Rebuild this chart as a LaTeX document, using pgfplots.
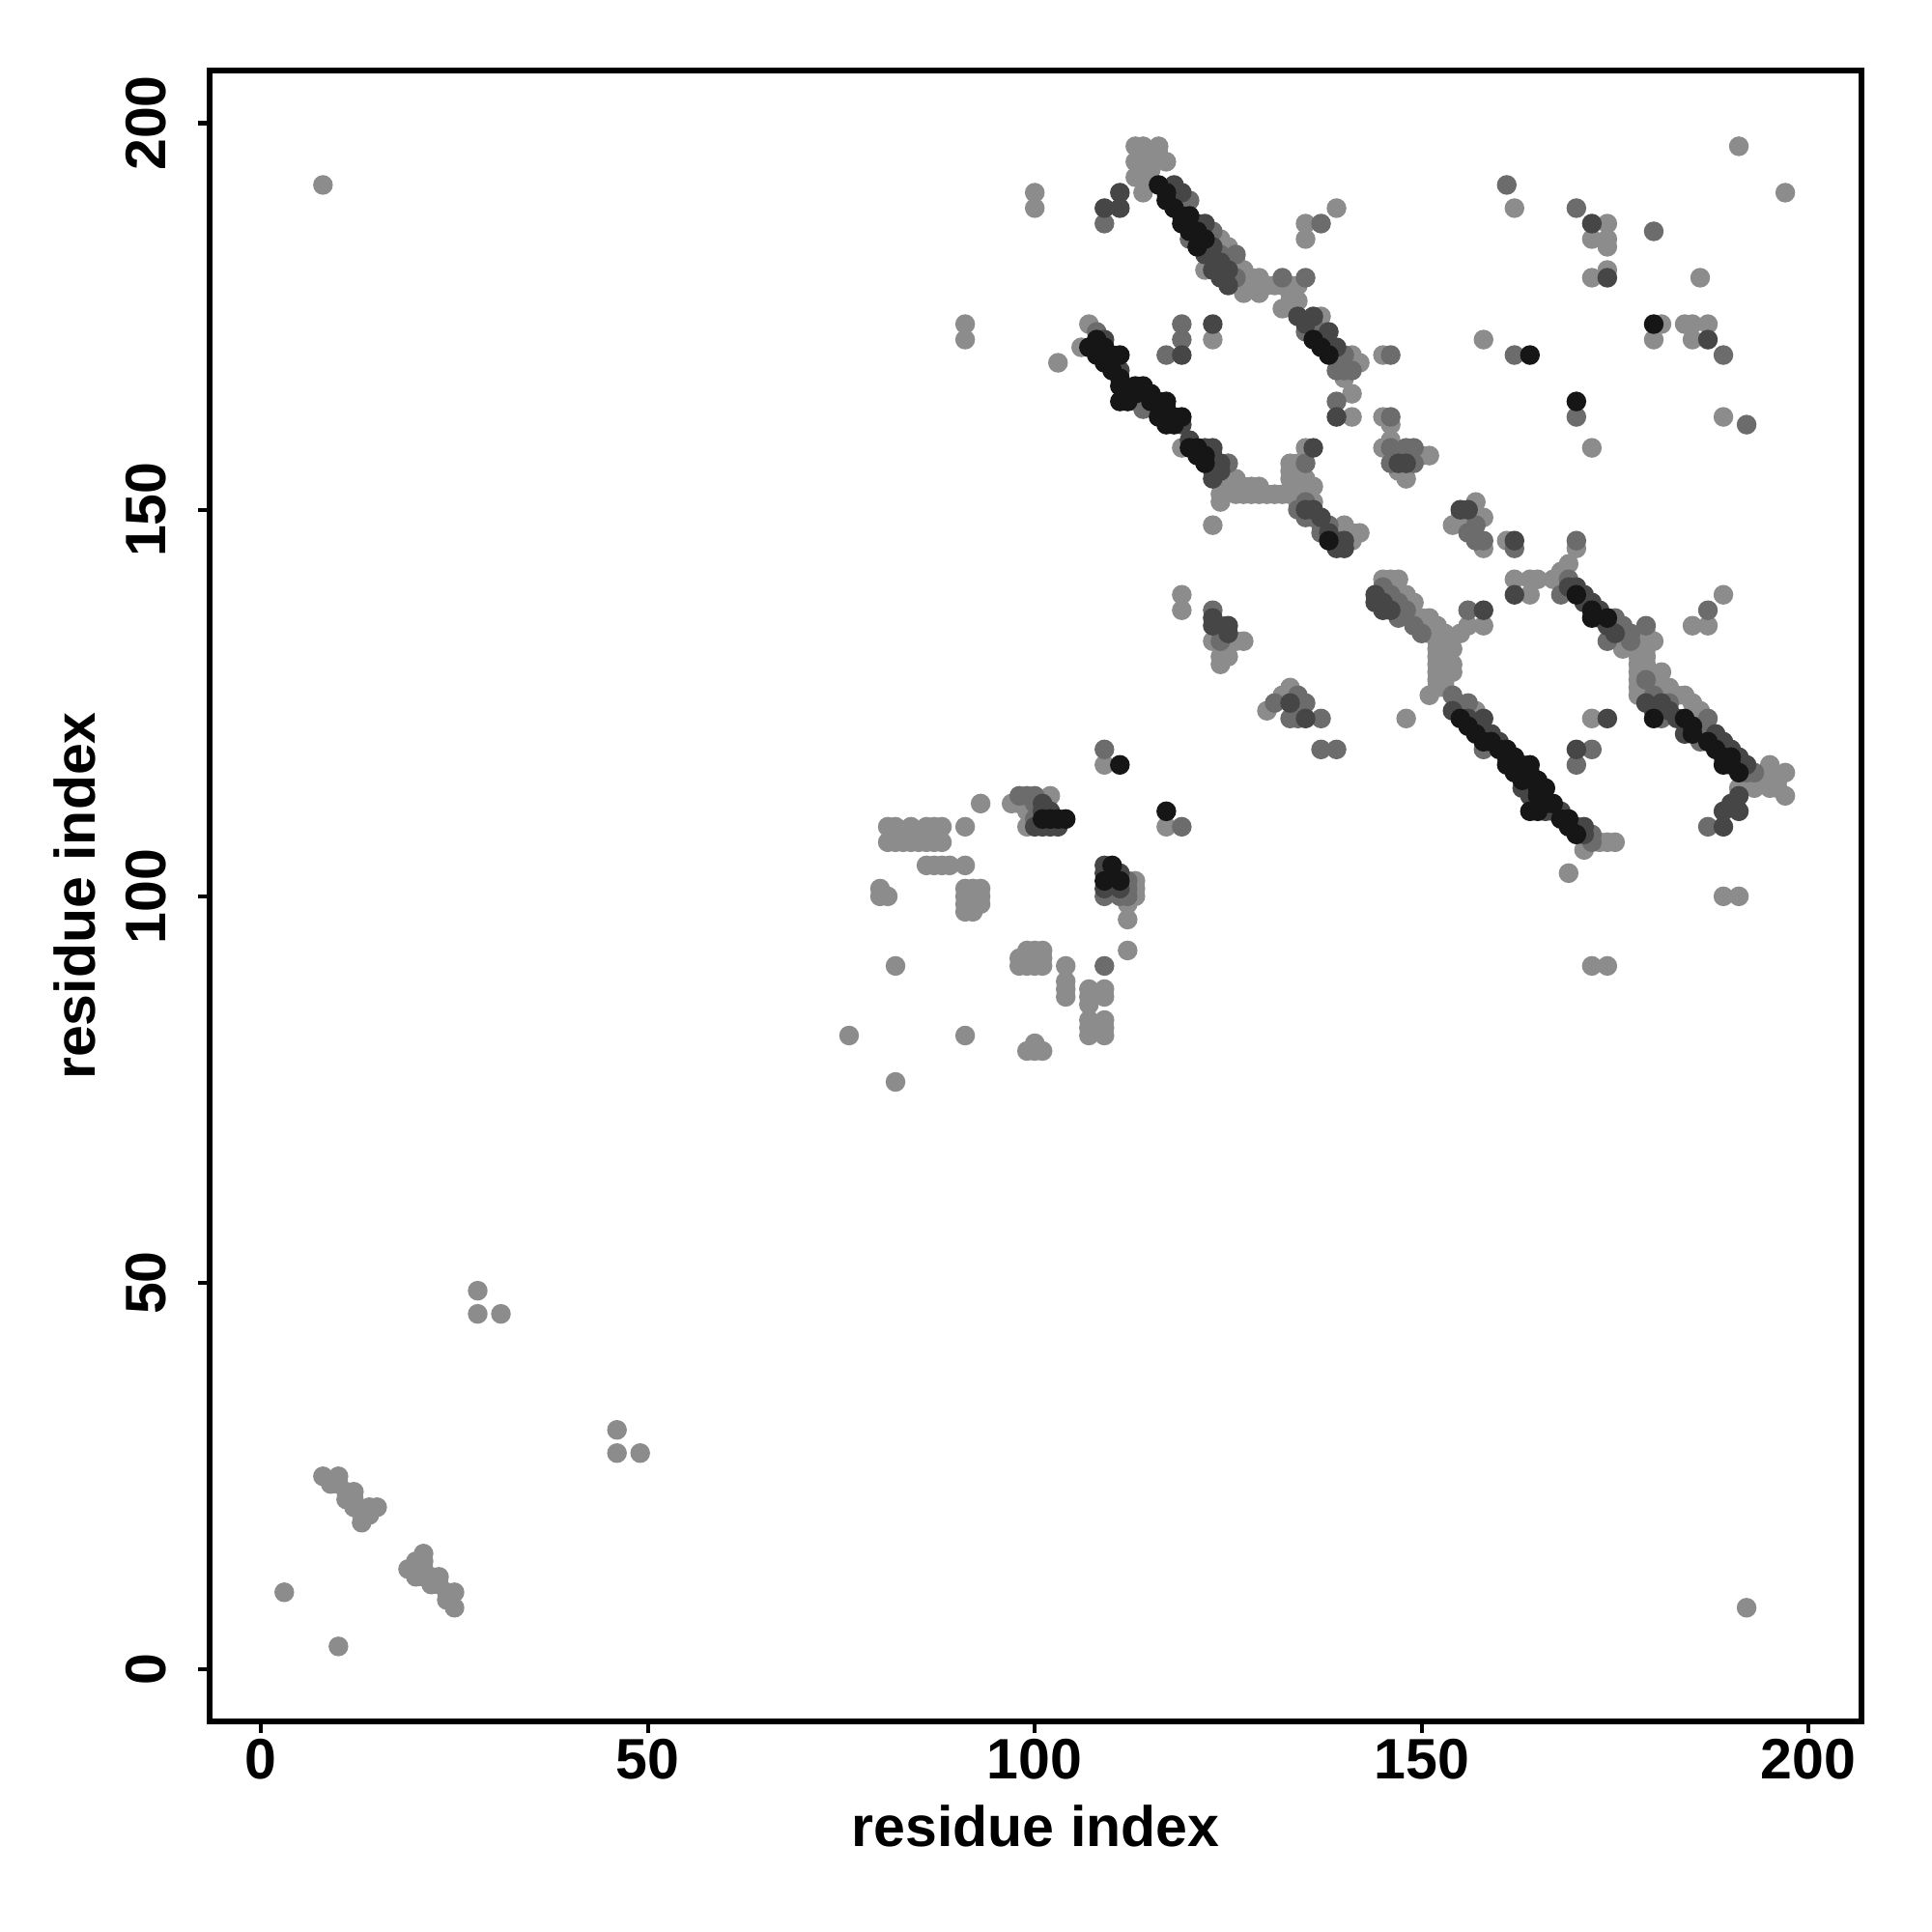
\documentclass[border=0pt]{standalone}
\usepackage{fontspec}
\setmainfont{Liberation Sans}
\usepackage{pgfplots}
\pgfplotsset{compat=1.18}

\definecolor{cL}{RGB}{140,140,140}
\definecolor{cM}{RGB}{108,108,108}
\definecolor{cD}{RGB}{70,70,70}
\definecolor{cK}{RGB}{22,22,22}

\begin{document}
\begin{tikzpicture}
\begin{axis}[
    scale only axis,
    width=17.1cm, height=17.09cm,
    xmin=-6.65, xmax=206.85,
    ymin=-6.7, ymax=206.8,
    xtick={0,50,100,150,200},
    ytick={0,50,100,150,200},
    xtick pos=bottom, ytick pos=left,
    tick align=outside,
    major tick length=0.12cm,
    axis line style={line width=1.7pt},
    tick style={line width=1.2pt, black},
    /pgf/number format/assume math mode=true,
    ticklabel style={font=\fontsize{16.8}{19}\selectfont\bfseries},
    xticklabel style={anchor=base, yshift=-0.47cm},
    yticklabel style={anchor=base, xshift=-0.33cm, rotate=90},
    every axis x label/.style={at={(axis description cs:0.5,0)}, anchor=base, yshift=-1.29cm},
    every axis y label/.style={at={(axis description cs:0,0.5)}, xshift=-1.18cm, rotate=90, anchor=base},
    label style={font=\fontsize{16.8}{19}\selectfont\bfseries},
    xlabel={residue index},
    ylabel={residue index},
    clip=true,
]
% light grey contacts
\addplot[only marks, mark=*, mark size=0.95mm, color=cL] coordinates {
(28,49) (28,46) (31,46) (46,31) (46,28) (49,28) (3,10) (10,3)
(8,25) (9,24) (10,25) (10,24) (11,23) (12,23) (12,22) (12,21) (13,20) (13,19) (14,21) (15,21) (14,20) (11,22)
(21,15) (21,14) (20,13) (19,13) (20,12) (21,12) (22,12) (23,12) (22,11) (23,11) (24,10) (25,10) (24,9) (25,8) (21,13) (20,14)
(8,192) (192,8)
(82,91) (76,82) (91,82) (82,76)
(98,92) (99,93) (100,93) (101,93) (98,91) (100,91) (101,91) (99,92) (100,92) (101,92) (99,91)
(104,91) (104,89) (104,88) (104,87)
(107,88) (107,87) (107,86) (107,84) (107,83) (107,82) (109,88) (109,87) (109,84) (109,82) (109,83)
(112,93) (100,81) (99,80) (101,80) (100,80)
(80,101) (81,100) (80,100)
(81,109) (82,109) (84,109) (86,109) (87,109) (88,109) (91,109) (81,107) (82,107) (83,107) (84,107) (85,107) (86,107) (87,107) (88,107)
(86,104) (87,104) (88,104) (89,104) (91,104)
(91,101) (92,101) (93,101) (91,100) (92,100) (93,100) (91,99) (92,99) (93,99) (91,98) (92,98)
(93,112) (97,112) (98,112) (99,111) (102,113) (99,109)
(113,102) (113,100) (112,99) (112,97) (113,101)
(109,117) (117,109)
(100,191) (100,189) (91,174) (91,172) (103,169)
(113,197) (114,197) (116,197) (114,196) (117,195) (114,195) (113,193) (114,193) (114,191) (115,194) (114,194) (113,195) (116,196)
(124,185) (125,184) (122,181) (126,182) (127,181) (127,179) (128,180) (129,180) (130,179) (131,179) (132,179) (133,179) (129,178) (127,178) (128,179) (134,179) (133,178) (132,176) (133,177) (134,177)
(141,170) (142,169) (137,175) (140,167)
(141,165) (141,162) (145,162) (146,161) (145,170)
(123,172) (107,174) (106,171) (113,164) (119,158) (124,152) (124,151)
(125,153) (126,152) (127,152) (128,152) (129,152) (130,152) (131,152) (132,152) (133,152) (134,152) (129,153) (126,154) (127,153) (128,153)
(133,156) (135,158) (134,154) (135,154) (134,155) (136,153) (136,151) (135,153) (134,153) (133,155) (134,156) (133,154)
(141,147) (142,147) (140,148) (141,146) (134,151)
(145,158) (150,157) (151,157) (148,154) (147,155) (146,159)
(157,151) (158,149) (154,148) (158,145) (155,149) (161,146) (170,145)
(162,141) (164,141) (165,141) (164,139)
(123,148) (119,139) (119,137) (124,134) (123,133) (126,133) (127,133) (124,131) (125,131) (124,130)
(130,124) (132,126) (133,127)
(145,141) (147,141) (146,141) (148,139) (149,138) (150,136) (151,136) (152,135) (151,134) (152,133) (153,134) (146,140)
(158,135) (156,135) (155,134)
(152,132) (153,131) (152,130) (153,129) (152,128) (153,127) (151,126) (152,127) (154,132) (154,130) (153,133) (154,129) (153,130) (153,128) (152,129) (152,131)
(148,123) (157,124) (174,107) (173,107) (171,106) (169,103)
(168,142) (169,143) (167,141) (176,133) (176,132) (178,132) (179,134) (180,133)
(179,131) (178,130) (179,130) (181,129) (178,129) (180,128) (178,127) (178,126) (179,129) (178,128) (179,132) (178,131)
(181,127) (182,127) (183,126) (184,126) (185,125) (186,124)
(195,117) (197,116) (191,114) (193,114) (195,114) (197,113) (194,115) (196,115) (192,115) (196,114)
(175,107) (189,100) (191,100) (172,91) (174,91) (172,123)
(189,139) (185,135) (187,135)
(162,189) (174,187) (172,185) (174,185) (174,184) (174,181) (172,180) (139,189) (135,187) (135,185)
(186,180) (191,197) (197,191)
(181,174) (180,172) (184,174) (185,174) (187,174) (185,172) (189,162)
(158,172) (172,158)
};
% medium grey contacts
\addplot[only marks, mark=*, mark size=0.95mm, color=cM] coordinates {
(109,187) (120,190) (119,190) (120,185) (123,186) (124,183) (126,180) (126,183) (132,180) (135,180)
(136,174) (140,170) (139,168) (140,168) (135,173) (138,171) (141,168)
(139,164) (146,162) (146,170)
(108,173) (114,163) (125,156) (135,156)
(134,150) (135,151) (136,149) (137,148) (138,148) (139,146) (135,149) (137,147)
(146,158) (148,158) (149,156) (146,156) (147,157) (149,158)
(158,146) (156,147) (157,148) (157,146) (162,145) (170,146)
(123,137) (124,135) (124,133)
(131,125) (134,126) (135,125) (133,123) (134,123) (137,123) (137,119) (139,119)
(145,140) (146,139) (147,138) (148,137) (147,136) (149,135) (150,134) (156,137)
(154,126) (156,125) (155,124) (158,119) (162,117) (172,108) (172,107)
(168,139) (169,141) (174,133) (175,136) (176,135) (177,134) (177,133) (179,135)
(179,128) (180,126) (181,123) (182,125) (187,123) (186,122) (186,120) (192,116) (193,116)
(187,109) (170,117) (172,119) (187,137)
(161,192) (170,189) (137,187) (180,186) (189,170) (192,161) (162,170) (170,162)
(119,174) (119,172) (117,170)
(98,113) (99,113) (100,113) (100,112) (100,110)
(109,91) (110,101) (112,102) (112,101) (112,100) (109,100) (111,100)
(109,119) (119,109)
};
% dark grey contacts
\addplot[only marks, mark=*, mark size=0.95mm, color=cD] coordinates {
(109,189) (111,191) (111,189)
(118,192) (119,191) (121,187) (122,187) (123,184) (122,183) (124,182) (123,181) (124,180) (125,179) (125,181)
(134,175) (135,174) (136,175) (138,173) (139,171) (137,172) (139,162)
(109,172) (111,168) (119,161) (122,158) (123,158) (123,155) (110,169) (123,157) (124,156) (123,154) (124,155) (120,159)
(136,150) (138,147) (139,145) (140,146) (140,145) (137,149) (135,150) (136,158)
(147,156) (148,156) (156,150) (155,150) (162,146) (162,139)
(123,136) (123,135) (125,134) (125,135)
(133,125) (135,123)
(144,139) (144,138) (145,138) (146,137) (145,137) (158,137)
(154,124) (157,122) (158,123) (156,123) (159,121) (160,120) (163,117) (164,115) (164,113) (166,111) (167,111) (168,111) (170,109) (171,108) (171,109) (163,114)
(170,140) (171,139) (172,138) (173,137) (171,138) (169,140) (173,136) (174,135) (175,134)
(179,125) (180,124) (181,125) (182,124) (183,123) (184,121) (188,121) (189,120) (190,119) (191,118) (192,117)
(191,113) (189,111) (191,111) (189,109) (190,112)
(170,119) (174,123)
(172,187) (174,180) (187,172)
(119,170) (123,174)
(109,103) (110,103) (111,103) (110,102) (109,101) (111,101) (109,104)
(101,112) (101,111) (102,111) (100,109) (101,109) (102,109) (103,109)
};
% black contacts
\addplot[only marks, mark=*, mark size=0.95mm, color=cK] coordinates {
(116,192) (117,191) (117,190) (118,189) (119,188) (120,188) (119,187) (120,186) (121,186) (122,185) (121,184)
(136,172) (138,170) (137,171)
(107,171) (108,172) (108,170) (109,171) (110,170) (111,170) (109,169) (110,168) (111,167) (111,166) (112,165) (113,166) (114,166) (111,164) (112,164) (115,165) (116,164) (117,164) (116,162) (117,163) (118,162) (119,162) (118,161) (117,161) (120,158) (121,157) (122,156) (121,158) (122,157) (113,165) (115,164)
(138,146)
(155,123) (156,122) (157,121) (158,120) (159,120) (160,119) (161,119) (161,118) (162,118) (161,117) (162,116) (164,117) (163,116) (164,116) (165,115) (165,114) (166,114) (165,113) (166,112) (164,111) (165,111) (168,110) (169,110) (169,109) (170,108) (163,115) (167,112)
(170,139) (172,137) (174,136) (172,136)
(180,123) (184,123) (185,122) (185,121) (187,120) (188,119) (189,118) (190,118) (189,117) (190,117) (191,116)
(180,174) (164,170) (170,164)
(111,117) (117,111)
(110,104) (109,102) (111,102)
(101,110) (102,110) (103,110) (104,110)
};
\end{axis}
\pgfresetboundingbox
\path (-2.17cm,-2.18cm) rectangle (17.83cm,17.82cm);
\end{tikzpicture}
\end{document}
